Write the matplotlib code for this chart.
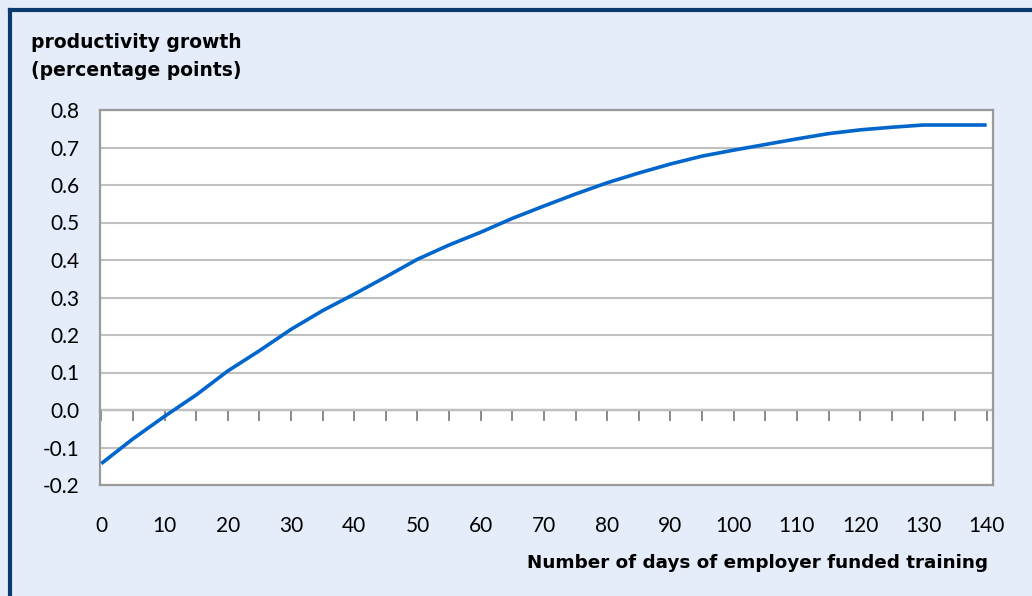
import numpy as np
import matplotlib.pyplot as plt
from matplotlib.lines import Line2D
from matplotlib.ticker import FormatStrFormatter

plt.rcParams['axes.unicode_minus'] = False

# Values (every 5 days)
days = [0, 5, 10, 15, 20, 25, 30, 35, 40, 45, 50, 55, 60, 65, 70,
        75, 80, 85, 90, 95, 100, 105, 110, 115, 120, 125, 130, 135, 140]
growth = [-0.143, -0.077, -0.017, 0.040, 0.104, 0.158, 0.215, 0.265, 0.309, 0.355,
          0.402, 0.440, 0.474, 0.511, 0.544, 0.576, 0.606, 0.632, 0.656, 0.677,
          0.693, 0.708, 0.723, 0.737, 0.747, 0.754, 0.760, 0.760, 0.760]

x_labels = list(range(0, 141, 10))
y_ticks = [-0.2, -0.1, 0.0, 0.1, 0.2, 0.3, 0.4, 0.5, 0.6, 0.7, 0.8]

W, H = 1032, 596
bg = '#E5ECFA'
navy = '#0B3A6E'

fig = plt.figure(figsize=(W / 100, H / 100), dpi=100, facecolor=bg)
ax = fig.add_axes([100 / W, 1 - 485 / H, 893 / W, 375 / H])
ax.set_facecolor('white')

ax.plot(days, growth, color='#0066CC', lw=2.6, solid_capstyle='butt', zorder=3)

ax.set_xlim(-0.2, 141)
ax.set_ylim(-0.2, 0.8)
ax.set_yticks(y_ticks)
ax.yaxis.set_major_formatter(FormatStrFormatter('%.1f'))
ax.set_xticks(x_labels)
ax.yaxis.grid(True, color='#C0C0C0', lw=1.5)
ax.set_axisbelow(True)

for lab in ax.get_xticklabels() + ax.get_yticklabels():
    lab.set_fontfamily('Lato')
    lab.set_fontsize(15)
ax.tick_params(axis='y', length=0, pad=15)
ax.tick_params(axis='x', length=0, pad=22)

for s in ax.spines.values():
    s.set_color('#9A9A9A')
    s.set_linewidth(1.6)

# category axis drawn at y = 0 with tick marks every 5 days
zero_ax = ax.secondary_xaxis(0.2)
zero_ax.set_xticks(np.arange(0, 141, 5))
zero_ax.tick_params(length=8, width=1.4, color='#8A8A8A', direction='out', labelbottom=False)
zero_ax.spines['bottom'].set_color('#8A8A8A')
zero_ax.spines['bottom'].set_linewidth(1.6)

# titles
fig.text(136 / W, 1 - 56 / H, 'productivity growth\n(percentage points)',
         ha='center', va='center', multialignment='center',
         fontsize=13.5, fontweight='bold', family='DejaVu Sans', linespacing=1.6)
fig.text(988 / W, 1 - 563 / H, 'Number of days of employer funded training',
         ha='right', va='center', fontsize=13.2, fontweight='bold', family='DejaVu Sans')

# dark frame on the left and top edges
fig.add_artist(Line2D([10 / W, 10 / W], [0, 1 - 10 / H], color=navy, lw=3,
                      solid_capstyle='projecting', transform=fig.transFigure))
fig.add_artist(Line2D([10 / W, 1.01], [1 - 10 / H, 1 - 10 / H], color=navy, lw=3,
                      solid_capstyle='projecting', transform=fig.transFigure))

fig.savefig('out.png', dpi=100, facecolor=bg)
